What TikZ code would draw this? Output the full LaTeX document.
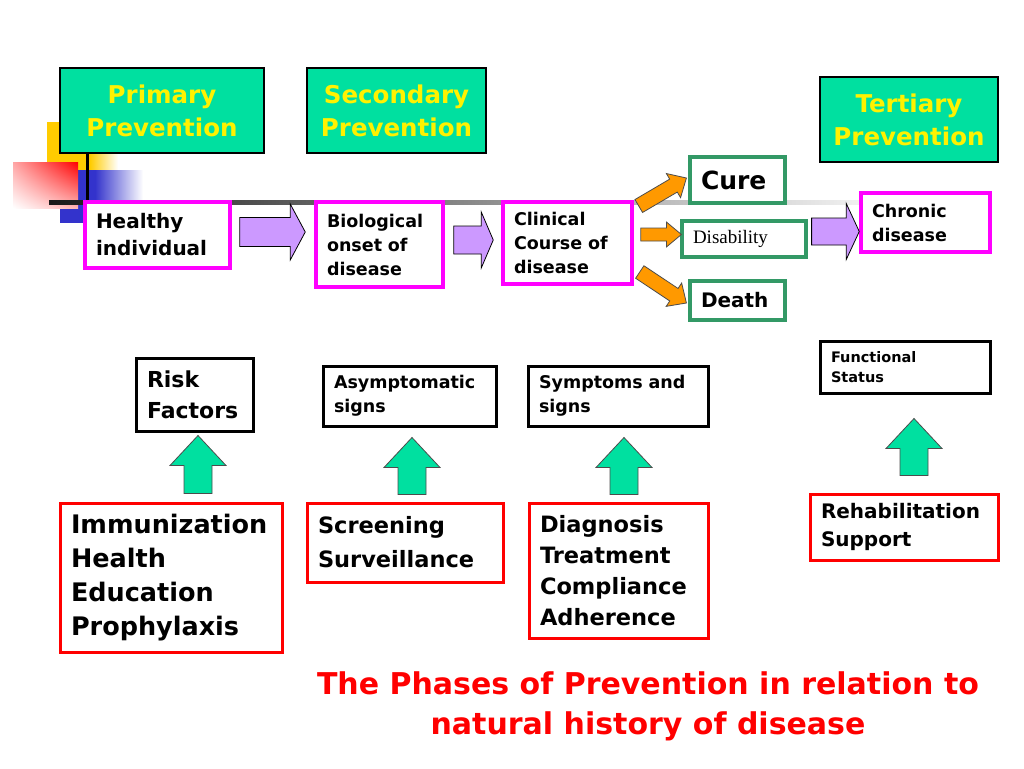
\documentclass[tikz,border=0pt]{standalone}
\usepackage{fontspec}
\setmainfont{DejaVu Sans}
\newfontfamily\timesfont{Liberation Serif}
\usetikzlibrary{calc,shadings}

\definecolor{prevgreen}{RGB}{0,224,160}
\definecolor{stagemag}{RGB}{255,0,255}
\definecolor{outgreen}{RGB}{51,153,102}
\definecolor{lilac}{RGB}{204,153,255}
\definecolor{amber}{RGB}{255,153,0}
\definecolor{decoblue}{RGB}{51,51,204}
\definecolor{decoyellow}{RGB}{255,204,0}

\tikzset{
  prevbox/.style={draw=black, line width=1.2pt, fill=prevgreen, text=yellow, align=center,
    font=\fontsize{24.5}{33}\selectfont\bfseries},
  stagebox/.style={draw=stagemag, line width=3.5pt, fill=white, align=left, inner xsep=11pt},
  outbox/.style={draw=outgreen, line width=3.2pt, fill=white, align=left, inner xsep=11pt},
  signbox/.style={draw=black, line width=3pt, fill=white, align=left, inner xsep=11pt},
  actbox/.style={draw=red, line width=3pt, fill=white, align=left, inner xsep=11pt},
  sz/.style 2 args={minimum width=#1pt, minimum height=#2pt, text width=#1pt-22pt},
  lilacarrow/.style={fill=lilac, draw=black, line width=0.8pt},
  amberarrow/.style={fill=amber, draw=black!70, line width=0.8pt},
  greenarrow/.style={fill=prevgreen, draw=black!70, line width=0.8pt}
}

% fat arrow: style, tail, tip, body half width, head half width, head length
\newcommand{\fatarrow}[6]{%
  \coordinate (fa-neck) at ($(#3)!#6!(#2)$);
  \draw[#1] ($(#2)!#4!90:(#3)$) -- ($(fa-neck)!#4!90:(#3)$) -- ($(fa-neck)!#5!90:(#3)$)
    -- (#3) -- ($(fa-neck)!#5!-90:(#3)$) -- ($(fa-neck)!#4!-90:(#3)$)
    -- ($(#2)!#4!-90:(#3)$) -- cycle;
}

\begin{document}
\begin{tikzpicture}[x=1pt,y=-1pt]
  \useasboundingbox (0,0) rectangle (1024,768);

  % corner decoration
  \fill[decoyellow] (47,122) rectangle (90,170);
  \shade[left color=decoyellow, right color=white] (90,150) rectangle (118,170);
  \fill[decoblue] (60,170) rectangle (95,223);
  \shade[left color=decoblue, right color=white] (95,170) rectangle (143,223);
  \shade[upper left=red!35, upper right=red, lower left=white, lower right=red!30]
    (13,162) rectangle (78,208);

  % time line
  \shade[left color=black!90, right color=black!5] (49,200) rectangle (866,204);
  \fill[black] (85.5,153) rectangle (88.5,228);

  % levels of prevention
  \node[prevbox, minimum width=204pt, minimum height=85pt] (primary) at (162,110.5) {Primary\\Prevention};
  \node[prevbox, minimum width=179pt, minimum height=85pt] (secondary) at (396.5,110.5) {Secondary\\Prevention};
  \node[prevbox, minimum width=178pt, minimum height=85pt] (tertiary) at (909,119.5) {Tertiary\\Prevention};

  % stages of disease
  \node[stagebox, sz={145}{66}, font=\fontsize{20}{27}\selectfont\bfseries] (healthy) at (157.5,235) {Healthy\\individual};
  \node[stagebox, sz={127}{85}, font=\fontsize{17.5}{24}\selectfont\bfseries] (onset) at (379.5,244.5) {Biological\\onset of\\disease};
  \node[stagebox, sz={129}{82}, font=\fontsize{17.5}{24}\selectfont\bfseries] (clinical) at (567.5,243) {Clinical\\Course of\\disease};
  \node[stagebox, sz={129}{59}, font=\fontsize{17.5}{24}\selectfont\bfseries] (chronic) at (925.5,222.5) {Chronic\\disease};

  % outcomes
  \node[outbox, sz={95}{46}, font=\fontsize{25}{30}\selectfont\bfseries] (cure) at (737.5,180) {Cure};
  \node[outbox, sz={124}{36}, font=\fontsize{19}{23}\selectfont\timesfont] (disab) at (744,239) {Disability};
  \node[outbox, sz={95}{39}, font=\fontsize{20}{24}\selectfont\bfseries] (death) at (737.5,300.5) {Death};

  % what is seen
  \node[signbox, sz={117}{73}, font=\fontsize{22}{31}\selectfont\bfseries] (risk) at (194.5,394.5) {Risk\\Factors};
  \node[signbox, sz={173}{60}, font=\fontsize{17.5}{24}\selectfont\bfseries] (asym) at (409.5,396) {Asymptomatic\\signs};
  \node[signbox, sz={180}{60}, font=\fontsize{17.5}{24}\selectfont\bfseries] (sympt) at (618,396) {Symptoms and\\signs};
  \node[signbox, sz={170}{52}, font=\fontsize{14.5}{20}\selectfont\bfseries] (funct) at (905,367) {Functional\\Status};

  % what is done
  \node[actbox, sz={222}{149}, font=\fontsize{25.5}{34}\selectfont\bfseries] (immun) at (171,577.5) {Immunization\\Health\\Education\\Prophylaxis};
  \node[actbox, sz={196}{79}, font=\fontsize{22.5}{34}\selectfont\bfseries] (screen) at (405,542.5) {Screening\\Surveillance};
  \node[actbox, sz={179}{135}, font=\fontsize{22.5}{31}\selectfont\bfseries] (diag) at (618.5,570.5) {Diagnosis\\Treatment\\Compliance\\Adherence};
  \node[actbox, sz={188}{66}, font=\fontsize{20}{28}\selectfont\bfseries] (rehab) at (904,527) {Rehabilitation\\Support};

  % stage to stage
  \coordinate (t1) at ($(healthy.east)+(8,-3)$);
  \coordinate (h1) at ($(t1 -| onset.west)+(-9,0)$);
  \fatarrow{lilacarrow}{t1}{h1}{14.5pt}{28pt}{15pt}
  \coordinate (t2) at ($(onset.east)+(9,-4.5)$);
  \coordinate (h2) at ($(t2 -| clinical.west)+(-8,0)$);
  \fatarrow{lilacarrow}{t2}{h2}{14pt}{28pt}{12pt}
  \coordinate (t3) at ($(disab.east)+(4,-7.5)$);
  \coordinate (h3) at (t3 -| chronic.west);
  \fatarrow{lilacarrow}{t3}{h3}{13.5pt}{28pt}{13pt}

  % clinical course to outcomes
  \coordinate (c1) at ($(clinical.east)+(5,-37)$);
  \coordinate (c2) at ($(cure.west)+(-2,-2)$);
  \fatarrow{amberarrow}{c1}{c2}{7.5pt}{14pt}{15pt}
  \coordinate (d1) at ($(clinical.east)+(7,-8.5)$);
  \coordinate (d2) at ($(disab.west)+(1,-4.5)$);
  \fatarrow{amberarrow}{d1}{d2}{6.5pt}{12.5pt}{15pt}
  \coordinate (e1) at ($(clinical.east)+(6,29)$);
  \coordinate (e2) at ($(death.west)+(-2,2.5)$);
  \fatarrow{amberarrow}{e1}{e2}{7.5pt}{14pt}{15pt}

  % actions up to signs
  \foreach \lo/\hi/\dx/\gaplo/\gaphi in {immun/risk/3.5/8/3, screen/asym/2.5/7/10,
      diag/sympt/6/7/10, rehab/funct/9/17/24}{
    \coordinate (up-tip) at ($(\hi.south)+(\dx,\gaphi)$);
    \coordinate (up-tail) at ($(up-tip |- \lo.north)+(0,-\gaplo)$);
    \fatarrow{greenarrow}{up-tail}{up-tip}{14pt}{28pt}{30pt}
  }

  % caption
  \node[text=red, align=center, font=\fontsize{30}{40}\selectfont\bfseries] (title) at (648,706)
    {The Phases of Prevention in relation to\\natural history of disease};
\end{tikzpicture}
\end{document}
